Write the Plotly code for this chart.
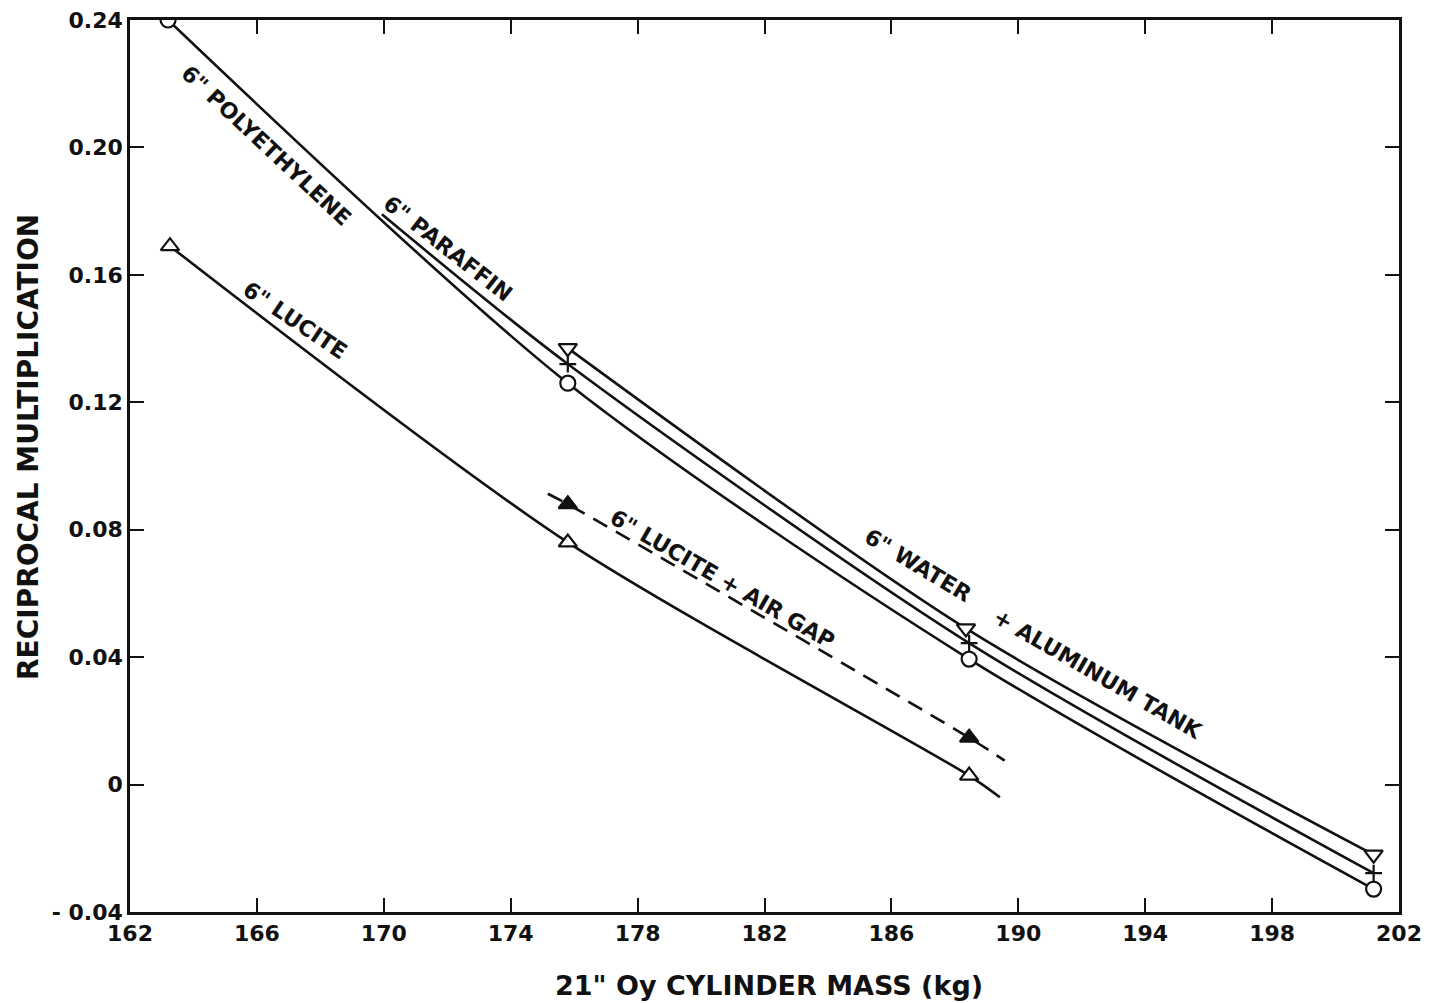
import plotly.graph_objects as go

# ---- data ----
poly_x = [163.2, 175.8, 188.45, 201.2]
poly_y = [0.240, 0.126, 0.0394, -0.0328]

paraffin_line_x = [169.94, 175.8, 188.45, 201.2]
paraffin_line_y = [0.179, 0.132, 0.0444, -0.0278]
paraffin_x = [175.8, 188.45, 201.2]
paraffin_y = [0.132, 0.0444, -0.0278]

water_x = [175.8, 188.35, 201.2]
water_y = [0.137, 0.049, -0.022]

lucite_line_x = [163.26, 175.8, 188.45, 189.42]
lucite_line_y = [0.169, 0.076, 0.0028, -0.004]
lucite_x = [163.26, 175.8, 188.45]
lucite_y = [0.169, 0.076, 0.0028]

airgap_line_x = [175.17, 175.8, 188.45, 189.57]
airgap_line_y = [0.0913, 0.088, 0.0147, 0.0075]
airgap_x = [175.8, 188.45]
airgap_y = [0.088, 0.0147]

x_ticks = [162, 166, 170, 174, 178, 182, 186, 190, 194, 198, 202]
y_ticks = [-0.04, 0, 0.04, 0.08, 0.12, 0.16, 0.20, 0.24]
y_tick_text = ["- 0.04", "0", "0.04", "0.08", "0.12", "0.16", "0.20", "0.24"]

FONT = "DejaVu Sans"
BLACK = "#111111"

fig = go.Figure()

def line(x, y, dash="solid"):
    fig.add_trace(go.Scatter(x=x, y=y, mode="lines",
                             line=dict(color=BLACK, width=2.6, dash=dash, shape="spline", smoothing=0.8),
                             showlegend=False, hoverinfo="skip"))

def marks(x, y, symbol, size=13, fill="white"):
    fig.add_trace(go.Scatter(x=x, y=y, mode="markers",
                             marker=dict(symbol=symbol, size=size, color=fill,
                                         line=dict(color=BLACK, width=2.2)),
                             showlegend=False, hoverinfo="skip"))

line(poly_x, poly_y)
line(paraffin_line_x, paraffin_line_y)
line(water_x, water_y)
line(lucite_line_x, lucite_line_y)
line(airgap_line_x, airgap_line_y, dash="16px,10px")

marks(poly_x, poly_y, "circle", 15)
marks(paraffin_x, paraffin_y, "cross-thin-open", 12, fill=BLACK)
marks(water_x, water_y, "triangle-down", 16)
marks(lucite_x, lucite_y, "triangle-up", 16)
marks(airgap_x, airgap_y, "triangle-up", 16, fill=BLACK)

labels = [
    ('6" POLYETHYLENE', 166.29, 0.2006, 43),
    ('6" PARAFFIN', 172.02, 0.1684, 38),
    ('6" LUCITE', 167.2, 0.1456, 34),
    ('6" LUCITE + AIR GAP', 180.69, 0.0644, 30),
    ('6" WATER', 186.84, 0.0688, 31),
    ('+ ALUMINUM TANK', 192.51, 0.0344, 30),
]
for t, x, y, a in labels:
    fig.add_annotation(x=x, y=y, text=t, textangle=a, showarrow=False,
                       font=dict(family=FONT, size=22, color=BLACK, weight="bold"))

# axis titles
fig.add_annotation(text='21" Oy CYLINDER MASS (kg)', xref="paper", yref="paper",
                   x=(769 - 130) / 1269, y=-(985 - 912) / 892, showarrow=False,
                   xanchor="center", yanchor="middle",
                   font=dict(family=FONT, size=27, color=BLACK, weight="bold"))
fig.add_annotation(text="RECIPROCAL MULTIPLICATION", xref="paper", yref="paper",
                   x=-(130 - 28) / 1269, y=(912 - 447) / 892, showarrow=False, textangle=-90,
                   xanchor="center", yanchor="middle",
                   font=dict(family=FONT, size=28, color=BLACK, weight="bold"))

axis_common = dict(showline=True, linecolor=BLACK, linewidth=2.5, mirror="ticks",
                   ticks="inside", ticklen=14, tickwidth=2, tickcolor=BLACK,
                   showgrid=False, zeroline=False, automargin=False,
                   ticklabeloverflow="allow",
                   tickfont=dict(family=FONT, size=22, color=BLACK, weight="bold"))

fig.update_xaxes(range=[162, 202], tickvals=x_ticks, ticktext=[str(v) for v in x_ticks],
                 **axis_common)
fig.update_yaxes(range=[-0.04, 0.24], tickvals=y_ticks, ticktext=y_tick_text,
                 **axis_common)

# page body adds ~8px offset; compensate so the plot area lands where the reference has it
fig.update_layout(width=1422, height=995, plot_bgcolor="white", paper_bgcolor="white",
                  margin=dict(l=122, r=31, t=12, b=91, pad=0))

fig.write_html("out.html")
